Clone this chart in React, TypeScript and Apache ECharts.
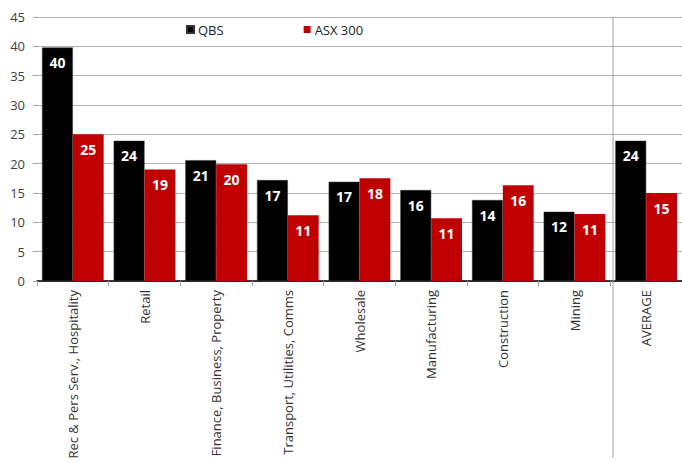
import React, { useEffect, useRef } from "react";
import * as echarts from "echarts";

const categories = [
  "Rec & Pers Serv., Hospitality",
  "Retail",
  "Finance, Business, Property",
  "Transport, Utilities, Comms",
  "Wholesale",
  "Manufacturing",
  "Construction",
  "Mining",
  "AVERAGE",
];
const qbsValues = [39.8, 23.9, 20.6, 17.2, 16.9, 15.5, 13.8, 11.8, 23.9];
const asxValues = [25.0, 19.0, 19.9, 11.2, 17.5, 10.7, 16.3, 11.4, 15.0];
const yTicks = { min: 0, max: 45, interval: 5 };

const FONT = "'Open Sans', 'Noto Sans', sans-serif";

export default function App() {
  const ref = useRef<HTMLDivElement>(null);
  useEffect(() => {
    document.body.style.margin = "0";
    if (!ref.current) return;
    const chart = echarts.init(ref.current, null, { renderer: "svg" });
    const barLabel = {
      show: true,
      position: "insideTop",
      distance: 8,
      color: "#ffffff",
      fontWeight: "bold",
      fontSize: 14,
      fontFamily: FONT,
      formatter: (p: any) => String(Math.round(p.value)),
    };
    chart.setOption({
      animation: false,
      backgroundColor: "#ffffff",
      textStyle: { fontFamily: FONT },
      legend: {
        top: 18,
        left: 181,
        itemWidth: 7,
        itemHeight: 7,
        itemGap: 80,
        icon: "rect",
        textStyle: { fontSize: 13, color: "#222", fontFamily: FONT, padding: [0, 0, 0, -1] },
        data: ["QBS", "ASX 300"],
      },
      grid: { left: 37, right: -3, top: 17, bottom: 182, containLabel: false },
      xAxis: {
        type: "category",
        data: categories,
        axisLine: { lineStyle: { color: "#000", width: 1.5 } },
        axisTick: { show: true, length: 5, lineStyle: { color: "#a6a6a6" } },
        axisLabel: {
          rotate: 90,
          interval: 0,
          margin: 9,
          fontSize: 13,
          color: "#333",
          fontFamily: FONT,
        },
      },
      yAxis: {
        type: "value",
        min: yTicks.min,
        max: yTicks.max,
        interval: yTicks.interval,
        axisLine: { show: false },
        axisTick: { show: true, length: 4, lineStyle: { color: "#a6a6a6" } },
        axisLabel: { fontSize: 13, color: "#404040", margin: 12, fontFamily: FONT },
        splitLine: { lineStyle: { color: "#b3b3b3" } },
      },
      series: [
        {
          name: "QBS",
          type: "bar",
          data: qbsValues,
          barGap: "0%",
          barCategoryGap: "14%",
          itemStyle: { color: "#000000", borderColor: "#333", borderWidth: 0.5 },
          label: barLabel,
        },
        {
          name: "ASX 300",
          type: "bar",
          data: asxValues,
          itemStyle: { color: "#c00000" },
          label: barLabel,
        },
      ],
      graphic: [
        {
          type: "line",
          shape: { x1: 613, y1: 17, x2: 613, y2: 458 },
          style: { stroke: "#a0a0a0", lineWidth: 1 },
          z: 10,
        },
      ],
    });
    return () => chart.dispose();
  }, []);
  return <div ref={ref} style={{ width: 682, height: 463 }} />;
}
